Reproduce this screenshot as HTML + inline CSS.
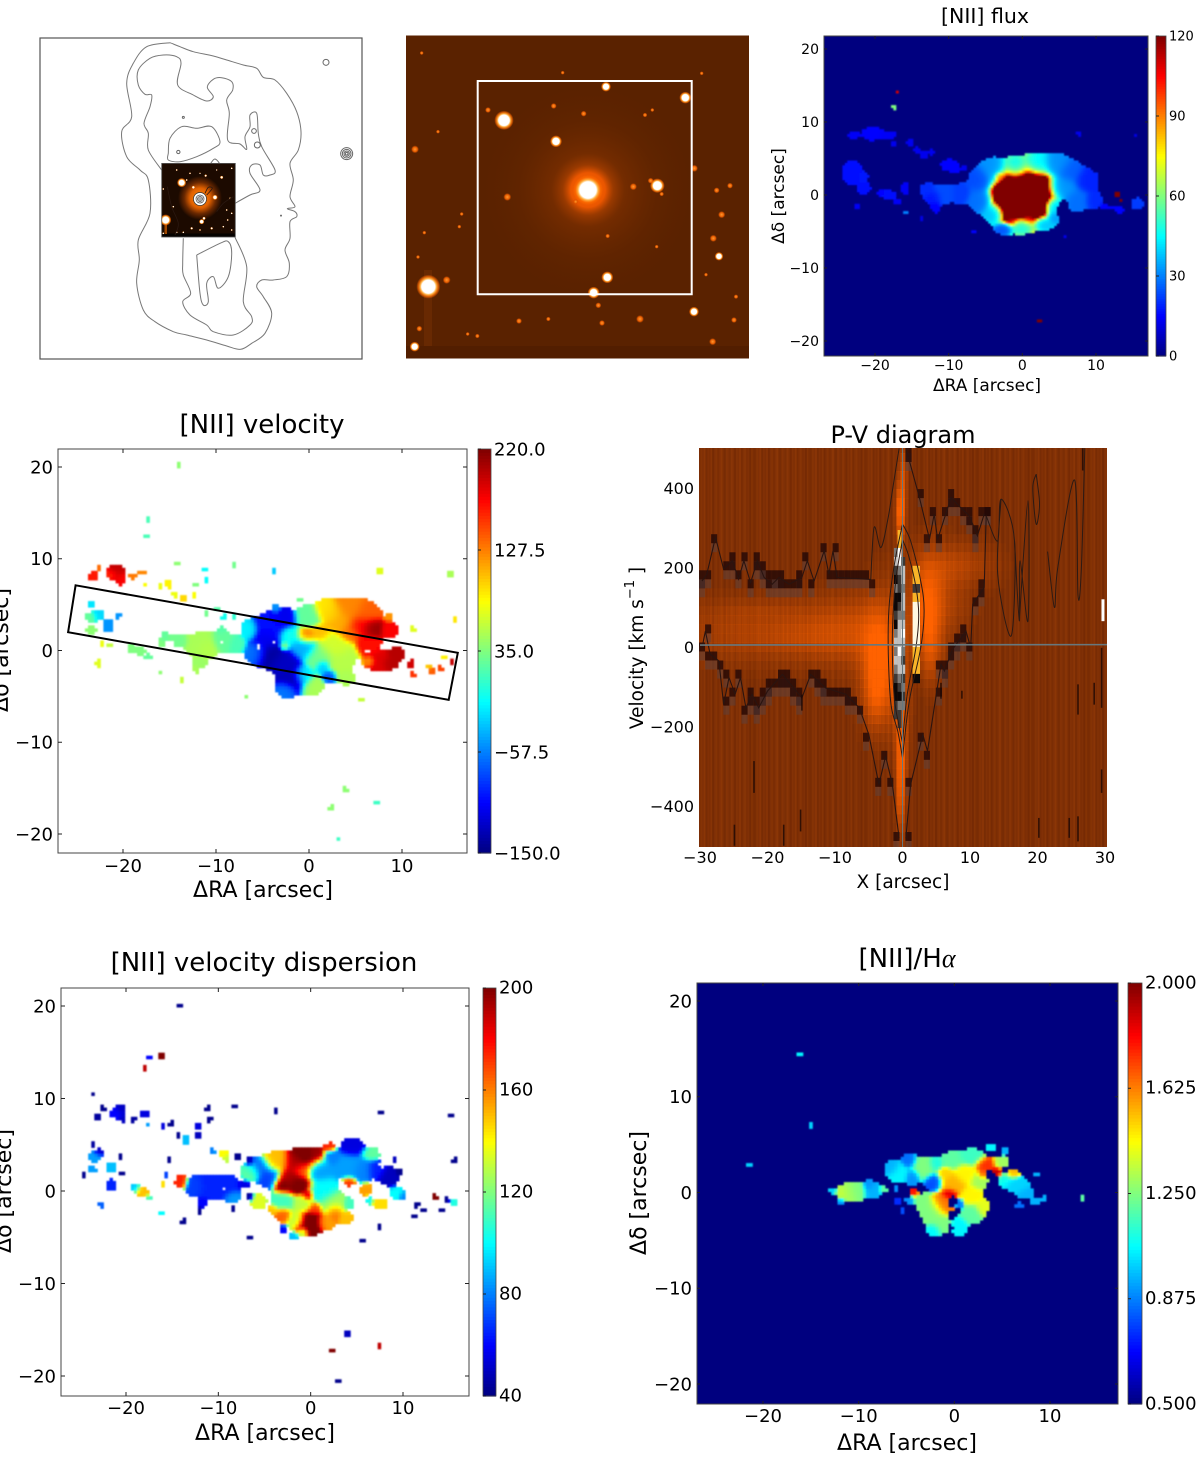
<!DOCTYPE html>
<html lang="en">
<head>
<meta charset="utf-8">
<title>NGC galaxy [NII] emission line maps</title>
<style>
html,body{margin:0;padding:0;background:#fff;}
#figure{display:block;width:1200px;height:1458px;font-family:"DejaVu Sans","Liberation Sans",sans-serif;fill:#000;}
</style>
</head>
<body>
<svg id="figure" xmlns="http://www.w3.org/2000/svg" width="1200" height="1458" viewBox="0 0 1200 1458">
<defs>
<radialGradient id="starHot"><stop offset="0" stop-color="#fff"/><stop offset=".55" stop-color="#fff"/><stop offset=".68" stop-color="#ffb040"/><stop offset=".85" stop-color="#ff6a00" stop-opacity=".7"/><stop offset="1" stop-color="#ff6a00" stop-opacity="0"/></radialGradient>
<radialGradient id="starDim"><stop offset="0" stop-color="#ff9a30"/><stop offset=".6" stop-color="#e85c00"/><stop offset="1" stop-color="#c04800" stop-opacity="0"/></radialGradient>
<radialGradient id="galaxyHalo"><stop offset="0" stop-color="#ff6a00"/><stop offset=".15" stop-color="#f05800" stop-opacity=".96"/><stop offset=".22" stop-color="#c04800" stop-opacity=".62"/><stop offset=".32" stop-color="#9a3a00" stop-opacity=".4"/><stop offset=".6" stop-color="#7a2e00" stop-opacity=".2"/><stop offset="1" stop-color="#5a2000" stop-opacity="0"/></radialGradient>
<radialGradient id="insetGlow"><stop offset="0" stop-color="#ff8a10"/><stop offset=".45" stop-color="#e06000"/><stop offset=".72" stop-color="#6a2800"/><stop offset="1" stop-color="#1c0a00"/></radialGradient>
<filter id="soften" x="-2%" y="-2%" width="104%" height="104%"><feGaussianBlur stdDeviation=".8"/></filter>
<clipPath id="clipFlux"><rect x="824" y="36" width="324" height="320"/></clipPath>
<clipPath id="clipVelocity"><rect x="58" y="449" width="409" height="404"/></clipPath>
<clipPath id="clipPv"><rect x="699" y="448" width="408" height="399"/></clipPath>
<clipPath id="clipDispersion"><rect x="61" y="988" width="408" height="408"/></clipPath>
<clipPath id="clipRatio"><rect x="697" y="983" width="421" height="421"/></clipPath>
<clipPath id="clipInset"><rect x="161.7" y="163.4" width="73.6" height="73.6"/></clipPath>
<clipPath id="clipSky"><rect x="406" y="35.5" width="343" height="323"/></clipPath>
</defs>
</svg>
<script>
/* ---------- data: emission clumps as [RA, Dec, radiusRA, radiusDec, value] in arcsec and map units ---------- */
const fluxClumps = [
[0.1,0,2.6,2.55,220],[-1.4,-3.2,.6,.6,110],[.9,-3,.6,.6,100],[-3,2.5,.5,.5,95],
[-5.7,2,1.2,1.2,24],[-5.7,-.7,1.2,1.2,28],[-3.9,3.4,1.3,1.3,32],[-.7,3.6,1.2,1.2,38],[2,4.1,1.3,1.1,42],[4.7,4.1,1.3,1.1,32],[6.5,3.2,1.2,1.1,26],[8.8,2,1.2,1.1,19],
[5.6,1.1,1.5,1.3,32],[7.4,-.7,1.2,1.1,28],[9.7,-.7,.8,.8,20],[4.3,-1.6,.9,.9,36],[4.3,-3,.7,.7,32],[-2.5,-4.6,.9,.6,24],[0,-4.1,1.2,.9,42],[2.9,-3.9,1,.7,36],[-3.9,-2.5,1,1,36],
[11.3,-1.6,.5,.4,15],[13.3,-2.1,.5,.4,15],[15.6,-1.2,.6,.6,22],[12.5,-1.8,.6,.3,15],
[-12.9,.7,.7,.7,20],[-10.7,.2,1.2,1,24],[-8.4,.2,.9,.9,22],[-12,-.25,.8,.7,17],[-11.8,-1.6,.5,.7,15],[-10,4.1,.8,.6,15],[-9.1,3.6,.5,.5,15],[-7.9,3.6,.36,.4,13],
[-15.9,.9,.45,.8,14],[-18.1,0,.9,.5,17],[-17,-.9,.5,.36,14],[-19,.2,.6,.4,15],[-21.5,.9,.7,.6,16],[-23.1,3.6,1,.8,16],[-23.3,2.3,.7,.6,16],[-21.5,2.5,.5,.5,18],[-22.5,-1.5,.4,.4,14],
[-20.4,8.4,1,.7,15],[-22.9,8.2,.6,.5,14],[-18.1,8.2,.9,.5,14],[-15.2,7.1,.45,.5,13],[-13.4,5.5,.5,.5,13],[-12.3,5.9,.4,.4,13],[-14.3,6.2,.4,.4,13],[-17.4,7,.36,.36,13],
[-15.9,-2.4,.36,.36,30],[7.7,8.4,.36,.36,13],[15.4,8.2,.32,.32,12],[-6.6,-5.1,.36,.32,15],[5.8,-5.5,.32,.32,13],[-13.6,-3.2,.32,.32,12],[12.9,.1,.32,.32,120],[13.4,-.7,.32,.32,120],
[2.4,-17.3,.32,.32,120],[-17,14.1,.32,.32,110],[-17.4,12.05,.32,.32,60]
];
const fluxGaps = [[5.6,-2.2,.9,1.5],[8,-4.2,3,1.8],[-7.5,4.8,1.2,.9],[-8,-3.4,2,1.4]];
const velocityClumps = [
[-23.2,8.1,.5,.45,165],[-22.55,9,.32,.35,135],[-20.7,8.6,.6,.6,195],[-20.2,7.75,.45,.55,175],[-21.2,8.3,.55,.4,160],[-18.9,8.1,.5,.35,130],[-18,8.5,.5,.32,125],[-17.6,7.2,.32,.32,80],
[-16,7,.32,.32,75],[-15.1,7.2,.4,.4,85],[-14.4,6.1,.32,.32,75],[-13.5,5.6,.4,.4,95],[-12.3,6.1,.32,.32,80],[-12.1,7.2,.32,.32,35],[-11.2,8.9,.32,.32,-10],[-11,7.7,.32,.32,-10],
[-8.1,9.3,.32,.32,30],[-3.8,8.75,.32,.32,-30],[7.6,8.6,.35,.35,70],[15.2,8.3,.35,.35,50],[-14.2,9.5,.32,.32,40],[-17.5,12.5,.32,.32,15],[15.7,3.4,.35,.32,90],
[-23.4,5,.35,.4,-20],[-22.65,3.9,.5,.5,-25],[-23.55,3.65,.6,.45,25],[-21.6,2.65,.5,.6,-50],[-20.5,3.75,.32,.32,-50],[-23.4,2.3,.5,.45,40],[-22.3,.75,.35,.35,75],[-21.4,.5,.35,.32,60],
[-19.2,.3,.4,.4,35],[-18.2,-.1,.6,.4,35],[-17.3,-.7,.4,.32,25],[-22.65,-1.4,.4,.4,70],[-16,-2.35,.32,.32,40],[-13.7,-3.2,.32,.32,60],[-15.5,1.55,.4,.5,25],[-15.85,.8,.4,.4,35],[-14.8,1.55,.32,.32,30],
[-13.9,1,.6,.5,30],[-11.7,.65,1.1,.9,50],[-11,.3,.8,.7,55],[-9.2,1,.8,.7,25],[-7.8,.65,.6,.6,15],[-11.7,-1.35,.5,.5,45],[-12.1,-2.1,.32,.4,50],[-9.9,4.5,.4,.32,20],[-9.2,3.6,.32,.4,-5],[-11,4.1,.32,.32,30],[-8,3.75,.32,.32,5],[-9.4,2.3,.32,.32,20],
[-6.35,2.3,.6,.7,-15],[-4.2,2.65,1.2,1,-100],[-2.75,3.55,.9,.7,-110],[-4.55,1.2,1,.9,-110],[-5.6,-.25,.8,.8,-60],[-4.2,-.45,1.1,.9,-140],[-2.75,-1.2,1.1,.9,-125],[-1.7,-3.15,1,.9,-130],[-2.4,-4.25,.7,.6,-60],[-3.5,4.65,.32,.4,-50],[-.6,.5,1,.9,-40],
[-.1,3.75,.9,.8,25],[-2.05,1.55,.8,.7,-5],[-.25,1.55,.7,.6,135],[1.2,1.9,.7,.6,105],[-2.6,.5,.35,.35,40],[2.6,.5,1.2,1,65],[3.7,-1.35,1.2,1.1,55],[1.2,-.6,1,.9,30],[1.55,-1.7,.5,.5,-35],[2.25,-2.8,.5,.5,-75],[.45,-3.9,.8,.7,50],[-.6,-2.8,.7,.7,-10],[4,-2.8,.6,.6,50],
[1.9,4.45,.8,.7,90],[2.6,4.1,.9,.7,100],[4.4,4.45,1.2,.9,125],[3.7,3,1,.9,110],[6.2,4.1,1,.8,140],[5.5,2.65,1.2,.9,170],[6.75,2.5,.8,.7,215],[8.7,2.3,.6,.6,175],[8.7,3.65,.4,.32,120],[4.4,1.9,.7,.6,130],[6.55,.5,.8,.8,170],[7.45,-1.15,.9,.8,185],[9.4,-.4,.6,.6,200],[8.7,-1.35,.6,.5,200],[6.55,-1.15,.4,.4,110],
[11,-1.5,.35,.5,190],[11.2,-2.6,.32,.32,155],[13.2,-2.25,.4,.32,140],[14.1,-2,.4,.32,150],[15.35,-1.15,.35,.4,195],[12.8,-1.7,.32,.32,100],[14.6,-.8,.32,.32,85],[-6.7,-5,.32,.32,40],[5.65,-5.3,.32,.32,60],[-1,5.55,.32,.32,30],[11.2,2.3,.32,.32,70],
[2.4,-17.1,.32,.32,40],[3.9,-15.2,.32,.32,40],[7.3,-16.5,.32,.32,10],[3.2,-20.5,.32,.32,10],[-14.1,20.2,.32,.32,40],[-17.3,14.3,.35,.32,15],[7.5,8.6,.32,.32,70]
];
const velocityGaps = [[-3.8,.85,.25,.25],[-5.4,.5,.25,.3],[8.35,.5,.8,.55],[-9.4,.9,.2,.2],[6.3,-.2,.25,.25],[5.3,-2,.55,1.1]];
const dispersionClumps = [
[-23.2,8,.4,.4,45],[-22.5,8.9,.35,.4,42],[-21,8.4,.6,.5,60],[-20.5,8.9,.4,.5,50],[-20.3,7.7,.32,.5,50],[-19.2,7.7,.35,.4,45],[-18,8.4,.6,.4,55],[-17.6,7.2,.32,.32,85],[-16,7,.35,.32,55],[-15.1,7.2,.35,.4,42],[-14.4,6.05,.32,.32,42],[-13.5,5.5,.4,.4,90],[-12.2,7,.32,.32,55],[-12.2,6,.32,.32,50],[-11.1,8.9,.32,.32,42],[-10.9,7.7,.32,.32,42],[-23.6,10.5,.32,.32,42],[-8.2,9.2,.32,.32,42],[-3.8,8.7,.32,.32,42],[7.65,8.5,.35,.35,42],[15.3,8.2,.32,.32,42],
[-23.4,3.7,.7,.5,85],[-23.6,5,.32,.4,45],[-22.85,4.25,.4,.35,50],[-21.6,2.6,.5,.5,90],[-23.6,2.3,.45,.4,85],[-24.5,1.7,.32,.32,42],[-21.6,.65,.55,.5,65],[-18.3,-.1,.6,.5,150],[-19,.3,.4,.4,90],[-17.4,-.8,.4,.32,110],[-22.7,-1.5,.32,.35,75],[-16,.85,.35,.35,145],[-15.6,1.7,.32,.4,70],[-14.1,1,.5,.55,175],[-16.1,-2.4,.32,.32,100],[-13.8,-3.3,.32,.32,42],[-20.5,3.7,.32,.32,42],[-20.5,1.9,.32,.32,42],[-15.3,3.3,.32,.32,42],
[-10.6,4.25,.4,.35,80],[-9.5,4.05,.5,.4,140],[-9.05,3.5,.35,.35,130],[-7.9,3.7,.32,.32,42],
[-12.4,.5,.8,.7,70],[-11,.5,1.1,.9,65],[-9.1,.5,1,.9,65],[-8.4,-.6,.6,.5,85],[-11.7,-1.3,.4,.5,60],[-12,-2.2,.32,.4,42],[-7.15,.65,.5,.35,55],[-8.4,-1.9,.32,.32,42],
[-6.4,2.1,.7,.7,115],[-6.6,3.2,.32,.32,42],[-5.5,2.6,.9,.7,75],[-5.7,-1.15,.6,.6,135],[-6.6,-.6,.32,.32,42],[-3.7,3.2,1,.8,150],[-.5,3.5,1.2,.8,205],[-1.55,3,.9,.8,190],[.45,4.05,.6,.5,195],[-.8,2.3,.7,.7,165],[-2.3,1.2,1,.8,190],[-1.55,.8,1.1,.8,205],[-3,.65,.6,.6,205],[-.3,-.45,.4,.4,190],[-4.45,1.55,.9,.8,70],[-3,-1,.9,.8,110],[-.8,-1.35,.8,.7,130],
[2.05,4.8,.5,.4,175],[2.4,3.7,.6,.6,80],[.95,2.3,1,.9,85],[1.35,.1,1,1,100],[2.4,-1.35,1,.9,125],[-3,-2.6,.6,.6,165],[-4.1,-2.05,.4,.4,150],[.07,-3.3,.9,.9,205],[-.45,-3.85,.8,.7,200],[.45,-1.9,.5,.5,170],[-1.55,-3.15,.7,.7,130],[-1.9,-4.95,.5,.4,90],[-.8,-4.4,.4,.4,110],[2.6,-2.25,.6,.7,165],[1.7,-3.3,.7,.6,155],[3.9,-2.95,.6,.5,150],[4.2,-1.35,.4,.5,110],[-3,-4.2,.4,.4,60],
[4.2,2.65,1.2,1,85],[4.6,4.8,.9,.7,55],[6.6,4.05,.7,.5,115],[4.2,1,.5,.4,175],[5.65,2.3,.8,.8,80],[7.1,2.3,.7,.7,65],[8.55,1.55,.8,.7,50],[9.65,2.1,.32,.32,42],[9.1,3.5,.32,.32,50],[6,.1,.5,.5,155],[6.4,-1,.32,.4,100],[7.5,-1.35,.7,.5,145],[9.3,-.25,.6,.5,100],[10,-.6,.32,.4,80],
[11.45,-1.5,.35,.35,42],[12.2,-2,.32,.32,42],[14.15,-2.05,.4,.32,42],[15.6,-1.15,.4,.4,105],[11.25,-2.7,.32,.32,42],[14.75,-1,.32,.32,42],[-6.6,-5.1,.32,.32,42],[5.65,-5.4,.32,.32,42],[7.4,-3.85,.32,.32,42],[15.6,3.3,.32,.32,42],[13.5,-.6,.32,.32,200],
[2.4,-17.3,.32,.32,200],[4,-15.4,.32,.32,50],[7.5,-16.8,.32,.32,190],[3.1,-20.6,.32,.32,42],[-14.1,20.1,.32,.32,42],[-17.4,14.4,.32,.32,60],[-16.1,14.6,.32,.32,200],[-17.9,13.3,.32,.32,190]
];
const dispersionGaps = [[-5.5,.3,.4,.35],[6.9,1.1,.25,.25],[7.8,2.8,.4,.35],[-9.3,.1,.2,.2],[5.3,-1.5,.5,1]];
const ratioClumps = [
[-11,0,.65,.6,1.3],[-11.7,-.1,.5,.5,1.35],[-10.1,.2,.6,.6,1.25],[-8.55,.2,.6,.6,.95],[-8.9,.75,.4,.4,.9],[-12.75,.2,.32,.4,1],[-11.85,-1,.32,.32,.9],[-7.3,.3,.35,.32,1.2],
[-6.5,2.65,.55,.55,.95],[-5.75,2,.7,.7,1.05],[-6.1,.4,.35,.35,.9],[-5.9,-.8,.4,.4,.75],[-4.7,3.35,.5,.5,.85],[-3.15,2.65,.9,.8,1.25],[-1.95,3,.5,.5,1.1],[-4.35,1.6,.5,.6,.9],[-2.1,1.1,.6,.6,.8],[-4.7,-.85,.4,.4,.9],[-4.2,.05,.35,.32,1.8],[-3.5,-.8,.6,.5,1.25],[-2.3,-1.9,.9,.9,1.25],[-2.1,-3.95,.5,.5,1.05],[-1.4,-3.25,.7,.7,1.25],[-1.2,-1.15,.8,.8,1.65],[-.5,-.1,.5,.4,1.9],[-.2,.9,.9,.7,1.55],[-.9,1.95,.6,.5,1.5],[-.2,3.35,.8,.6,1.2],[1.2,1.95,.8,.7,1.45],[1.9,3.7,.9,.6,1.15],[3.8,4.75,.5,.4,1.05],[1.9,-.3,.7,.7,1.45],[2.6,1.25,.6,.6,1.3],[2.95,-1.5,.5,.6,1.4],[1.9,-2.2,.7,.7,1.2],[.5,-3.6,.6,.6,1.05],[.5,-1.2,.32,.35,.85],
[3.3,3,.7,.5,1.75],[4.5,2.15,.4,.35,1.9],[2.95,2,.32,.4,1.7],[5,3.2,.6,.5,1.3],[6.1,1.95,.5,.4,1.55],[5.4,4.4,.4,.4,.95],[5.4,1.4,.6,.5,1.1],[6.1,1,.7,.5,1],[6.8,.75,.7,.6,1],[7.5,-.1,.6,.5,.95],[8.5,-1,.5,.35,.95],[9.4,-.65,.4,.32,.95],[6.8,-1.35,.4,.32,.85],[8.5,1.85,.32,.32,.95],[-5.4,-1.8,.32,.32,.8],
[-16.2,14.5,.32,.32,1.05],[-15,6.9,.32,.32,1.0],[-21.4,2.9,.32,.32,1.0],[13.3,-.6,.32,.32,1.2]
];
const ratioGaps = [[-3.5,.4,.55,.5],[-.25,-1,.5,.6],[-.35,-2.4,.28,.5],[-.35,-3.6,.22,.6],[4.3,-.6,.7,.7]];
const slitCorners = [[-25.1,7.11],[16,-.25],[15.02,-5.37],[-25.9,1.99]];

/* ---------- data: axis ticks ---------- */
const fluxXTicks = [-20,-10,0,10];
const fluxYTicks = [20,10,0,-10,-20];
const fluxBarTicks = [0,30,60,90,120];
const velocityXTicks = [-20,-10,0,10];
const velocityYTicks = [20,10,0,-10,-20];
const velocityBarTicks = [-150,-57.5,35,127.5,220];
const dispersionXTicks = [-20,-10,0,10];
const dispersionYTicks = [20,10,0,-10,-20];
const dispersionBarTicks = [40,80,120,160,200];
const ratioXTicks = [-20,-10,0,10];
const ratioYTicks = [20,10,0,-10,-20];
const ratioBarTicks = [.5,.875,1.25,1.625,2];
const pvXTicks = [-30,-20,-10,0,10,20,30];
const pvYTicks = [400,200,0,-200,-400];

/* ---------- data: position-velocity diagram (X arcsec, velocity km/s) ---------- */
const pvStripeNoise = [.3,.7,.5,.9,.2,.6,.4,.8,.1,.5,.7,.3,.6,.95,.4,.2,.75,.5,.35,.85,.55,.15,.65,.45,.9,.25,.6,.8,.4,.5,.1,.7,.3];
const pvGlow = [
[-20,40,15,75,.3],[-8,40,7,85,.32],[-22,95,6,22,.08],[-15,20,8,30,.07],[-3.5,-60,2.6,130,.52],[-4,-110,1.7,85,.4],[-3,30,3,130,.26],[3.6,110,2.2,115,.58],[4.2,-10,1.4,80,.4],[8,205,5.5,55,.32],[5,110,3.4,100,.28],[9,100,3,40,.06],
[-.3,340,.6,70,1],[-.2,-250,.8,120,.7],[.1,440,.5,70,.5],[-.5,-100,1.4,120,.4],[-.3,-380,.5,100,.6]
];
const pvRowValues = [283,261,238,215,193,170,147,125,102,80,57,34,12,-11,-34,-56,-79,-102,-124,-147,-170,-192];
const pvNucleusLeft = [-1,-1,2,3,1,0,2,0,0,1,0,2,3,2,3,2,1,0,0,1,1,-1];
const pvNucleusMid = [5,5,4,4,2,1,1,0,1,2,3,3,3,4,3,3,2,1,0,2,1,1];
const pvNucleusRight = [-1,-1,-1,1,3,3,2,3,3,2,3,4,3,2,1,3,1,2,1,2,-1,-1];
const pvCrescentRows = [193,170,147,125,102,80,57,34,12,-11,-34,-56,-79];
const pvCrescentValues = [5,5,1,5,6,6,6,6,6,5,5,5,0];
const pvBandUpperLeft = [[-29.7,166],[-29,183],[-27.7,276],[-26.5,196],[-25.2,217],[-24.3,171],[-23.5,217],[-22.5,162],[-21.5,217],[-20.5,175],[-19.3,158],[-18.3,175],[-16.8,158],[-14.9,175],[-14.1,217],[-13.1,166],[-11.6,242],[-10.9,183],[-10.3,242],[-9.7,175],[-4.7,170]];
const pvLineUpperMid = [[-4.7,170],[-4.2,301],[-3.2,250],[-2.2,318],[-1.5,393],[-.5,500]];
const pvBandUpperRight = [[.5,500],[1,469],[2.5,376],[4,271],[4.7,334],[5.2,271],[6.4,334],[7.2,376],[8.6,351],[9.9,330],[11.1,280],[12.1,334],[12.4,330]];
const pvBandLowerLeft = [[-29.7,-2],[-29.2,40],[-28.5,-18],[-27.2,-35],[-26.5,-145],[-25.7,-77],[-24.8,-119],[-24,-77],[-23.2,-153],[-22.3,-119],[-21.3,-153],[-20,-111],[-17.8,-69],[-14.9,-128],[-13.6,-69],[-11.4,-103],[-8.4,-119],[-6.4,-153],[-5,-220],[-3.5,-346],[-2.5,-275],[-1.5,-346],[-.5,-481]];
const pvBandLowerRight = [[.5,-481],[1.2,-346],[3,-220],[3.7,-262],[5,-119],[5.7,-44],[6.2,-60],[7.4,-6],[9.4,40],[10.1,-2],[10.4,108],[12.1,150],[12.4,330]];
const pvLoopRight = [[12.4,330],[14.1,267],[14.6,372],[16.6,267],[16.1,28],[14.1,183],[14.6,372]];
const pvLoopFar = [[16.6,267],[17.3,66],[17.4,217],[18.6,66],[18.6,368],[17.3,66]];
const pvLoopSmall = [[19.8,435],[20.3,360],[19.8,309],[19.3,400],[19.8,435]];
const pvLoopEdge = [[21.5,240],[22.5,100],[23,200],[25.5,420],[26,130],[26.5,200],[27,500]];
const pvLensLeft = [[0,309],[-1.2,208],[-2,99],[-2.1,-18],[-1.7,-145],[-.7,-212],[0,-279]];
const pvLensRight = [[0,309],[1.2,267],[2.7,166],[3.2,91],[2.7,-2],[1,-136],[0,-279]];
const pvLensInnerLeft = [[0,270],[-.9,180],[-1.4,80],[-1.5,-20],[-1.2,-130],[-.5,-200],[0,-240]];
const pvLensInnerRight = [[0,270],[.9,230],[2,150],[2.4,80],[2,0],[.7,-120],[0,-240]];
const pvStreaks = [[-22,-287,-367],[-15.1,-409,-464],[-17.6,-447,-500],[-24.9,-447,-500],[26,-426,-489],[29.5,-308,-367],[29.5,-2,-153],[26,-94,-170],[28.4,-90,-145],[26.7,444,500],[20.2,-430,-480],[24.7,-430,-480],[-14.9,-120,-160],[5.7,-90,-130],[8.8,-110,-130]];
const pvSystemicVelocity = [5,6];
const pvWhiteMark = [29.7,65,120];

/* ---------- data: sky images, in image-detector units ---------- */
const radioOuter = [[510,128],[540,140],[580,155],[640,168],[680,180],[730,195],[770,205],[790,232],[825,240],[860,280],[890,335],[903,395],[895,450],[870,490],[880,540],[870,590],[885,620],[862,626],[885,635],[890,650],[870,665],[870,715],[855,750],[868,790],[860,830],[820,840],[785,840],[770,860],[790,890],[815,940],[795,1000],[755,1030],[722,1048],[680,1038],[620,1020],[560,1005],[520,995],[465,965],[430,930],[410,850],[418,780],[415,720],[450,640],[445,540],[420,510],[380,470],[365,395],[395,350],[380,250],[400,190],[440,140],[510,128]];
const radioInnerUpper = [[485,510],[445,450],[445,400],[432,370],[450,320],[455,285],[435,283],[415,255],[415,210],[450,175],[490,165],[530,170],[543,190],[533,255],[580,285],[620,303],[640,290],[622,262],[640,238],[665,233],[695,245],[698,270],[680,300],[688,340],[683,420],[720,432],[740,448],[735,410],[750,380],[750,345],[770,340],[775,400],[785,440],[825,510],[810,525],[790,525],[780,495],[755,495],[750,520],[780,570],[750,585],[705,610]];
const radioInnerLower = [[550,715],[548,790],[550,825],[572,880],[548,905],[570,945],[620,975],[640,995],[700,1005],[750,975],[755,950],[730,905],[740,800],[705,712]];
const radioHoleUpper = [[505,460],[510,415],[545,380],[590,385],[635,380],[660,425],[640,445],[590,470],[540,485],[505,480],[505,460]];
const radioHoleLower = [[590,765],[660,730],[685,725],[695,760],[685,830],[655,865],[640,830],[620,850],[625,905],[610,915],[600,880],[590,765]];
const radioKnot = [[632,490],[645,477],[660,495],[650,515],[635,505],[632,490]];
const radioInsetTrace = [[502,560],[515,620],[535,670],[525,705]];
const radioInsetTraceRight = [[650,635],[670,610],[700,590]];
const radioInsetTail = [[615,580],[625,562],[637,565],[620,585]];
const radioRings = [[978,187,9],[1040,461,18],[1040,461,13],[1040,461,8],[1040,461,4],[550,352,3],[535,456,5],[762,393,7],[772,435,9],[843,647,1.5]];
const insetStars = [[545,548,14],[497,660,17],[605,665,8],[612,655,5],[645,592,8],[580,562,5],[617,527,4],[665,532,5],[490,567,3],[520,620,3],[560,540,3],[570,520,3],[600,520,2.5],[690,595,3],[680,630,3],[683,660,3],[695,640,3],[670,680,3],[635,685,4],[575,685,4],[550,697,3],[530,697,3],[695,690,3],[600,690,3],[490,700,3],[650,510,2.5],[695,505,3],[530,510,3]];
const skyBright = [[312,301,29],[468,364,18],[618,200,15],[856,233,18],[772,497,22],[622,772,18],[581,818,18],[85,800,36],[957,709,13],[882,875,15],[44,980,15]];
const skyDim = [[700,500,11],[752,482,9],[785,522,7],[322,531,12],[883,445,11],[140,780,12],[45,388,12],[264,270,9],[461,258,9],[551,281,9],[735,285,7],[950,511,9],[990,497,9],[965,584,11],[940,655,11],[720,897,12],[1002,900,9],[606,909,9],[357,903,9],[595,856,9],[445,897,7],[58,926,9],[623,648,7],[527,545,8],[1008,830,7],[938,965,11],[905,160,6],[757,270,6],[178,620,6],[73,638,6],[54,711,6],[185,582,6],[770,680,6],[918,764,6],[203,942,6],[232,948,7],[488,158,6],[114,335,6],[65,99,6]];
const skyBox = [[233,183],[875,183],[875,823],[233,823]];

/* ---------- helpers ---------- */
const NS = 'http://www.w3.org/2000/svg';
const figure = document.getElementById('figure');
const MINUS = '\u2212';
function make(tag, parent, attrs, text) {
  const node = document.createElementNS(NS, tag);
  for (const key in attrs) node.setAttribute(key, attrs[key]);
  if (text !== undefined) node.textContent = text;
  parent.appendChild(node);
  return node;
}
function linear(d0, d1, r0, r1) {
  return function (v) { return r0 + (v - d0) * (r1 - r0) / (d1 - d0); };
}
function clamp01(v) { return Math.max(0, Math.min(1, v)); }
function jet(t) {
  t = clamp01(t);
  const r = clamp01(Math.min(4 * t - 1.5, 4.5 - 4 * t));
  const g = clamp01(Math.min(4 * t - 0.5, 3.5 - 4 * t));
  const b = clamp01(Math.min(4 * t + 0.5, 2.5 - 4 * t));
  return 'rgb(' + Math.round(r * 255) + ',' + Math.round(g * 255) + ',' + Math.round(b * 255) + ')';
}
function fmt(v, digits) { return v.toFixed(digits).replace('-', MINUS); }
function smoothPath(points, px, py) {
  const p = points.map(function (q) { return [px(q[0]), py(q[1])]; });
  let d = 'M' + p[0][0].toFixed(1) + ' ' + p[0][1].toFixed(1);
  for (let i = 0; i < p.length - 1; i++) {
    const a = p[Math.max(i - 1, 0)], b = p[i], c = p[i + 1], e = p[Math.min(i + 2, p.length - 1)];
    d += 'C' + (b[0] + (c[0] - a[0]) / 6).toFixed(1) + ' ' + (b[1] + (c[1] - a[1]) / 6).toFixed(1) + ' ' +
      (c[0] - (e[0] - b[0]) / 6).toFixed(1) + ' ' + (c[1] - (e[1] - b[1]) / 6).toFixed(1) + ' ' +
      c[0].toFixed(1) + ' ' + c[1].toFixed(1);
  }
  return d;
}
function linePath(points, px, py) {
  return points.map(function (q, i) { return (i ? 'L' : 'M') + px(q[0]).toFixed(1) + ' ' + py(q[1]).toFixed(1); }).join('');
}

/* ---------- axes, colorbar and map drawing ---------- */
function drawFrame(parent, p) {
  const frame = make('rect', parent, {x: p.x0, y: p.y0, width: p.x1 - p.x0, height: p.y1 - p.y0, fill: 'none', stroke: '#444', 'stroke-width': 1});
  
  
}
function drawTicks(parent, p) {
  p.xTicks.forEach(function (v) {
    const x = p.xs(v);
    const bottom = make('line', parent, {x1: x, x2: x, y1: p.y1, y2: p.y1 - p.tickLen, stroke: '#222', 'stroke-width': 1});
    
    
    const top = make('line', parent, {x1: x, x2: x, y1: p.y0, y2: p.y0 + p.tickLen, stroke: '#222', 'stroke-width': 1});
    
    
    const label = make('text', parent, {x: x, y: p.xLabelY, 'text-anchor': 'middle', 'font-size': p.tickFont}, fmt(v, 0));
    
    
  });
  p.yTicks.forEach(function (v) {
    const y = p.ys(v);
    const left = make('line', parent, {x1: p.x0, x2: p.x0 + p.tickLen, y1: y, y2: y, stroke: '#222', 'stroke-width': 1});
    
    
    const right = make('line', parent, {x1: p.x1, x2: p.x1 - p.tickLen, y1: y, y2: y, stroke: '#222', 'stroke-width': 1});
    
    
    const label = make('text', parent, {x: p.x0 - 5, y: y + p.tickFont * 0.36, 'text-anchor': 'end', 'font-size': p.tickFont}, fmt(v, 0));
    
    
  });
}
function drawTitles(parent, p) {
  const title = make('text', parent, {x: p.titleX, y: p.titleY, 'text-anchor': 'middle', 'font-size': p.titleFont}, p.title);
  
  
  const xl = make('text', parent, {x: p.xTitleX, y: p.xTitleY, 'text-anchor': 'middle', 'font-size': p.labelFont}, p.xTitle);
  
  
  const yl = make('text', parent, {x: 0, y: 0, 'text-anchor': 'middle', 'font-size': p.labelFont, transform: 'translate(' + p.yTitleX + ' ' + p.yTitleY + ') rotate(-90)'}, p.yTitle);
  
  
  return {title: title, yl: yl};
}
function drawColorbar(parent, p) {
  const scale = linear(p.min, p.max, p.y1, p.y0);
  const bar = make('g', parent, {});
  
  
  const steps = 128;
  for (let i = 0; i < steps; i++) {
    const v = p.min + (p.max - p.min) * (i + .5) / steps;
    const h = (p.y1 - p.y0) / steps;
    const seg = make('rect', bar, {x: p.barX0, width: p.barX1 - p.barX0, y: (scale(v) - h / 2).toFixed(2), height: (h + .6).toFixed(2), fill: jet((v - p.min) / (p.max - p.min))});
    
    
  }
  const box = make('rect', bar, {x: p.barX0, y: p.y0, width: p.barX1 - p.barX0, height: p.y1 - p.y0, fill: 'none', stroke: '#444', 'stroke-width': .8});
  
  
  p.barTicks.forEach(function (v) {
    const y = scale(v);
    const tick = make('line', bar, {x1: p.barX0, x2: p.barX0 + 3, y1: y, y2: y, stroke: '#222', 'stroke-width': 1});
    
    
    const label = make('text', bar, {x: p.barX1 + 3, y: y + p.barFont * 0.36 + p.barLabelShift, 'font-size': p.barFont}, fmt(v, p.barDigits));
    
    
  });
}
function fieldValue(clumps, ra, dec, maxGrow) {
  let mask = 0, sum = 0, weight = 0;
  for (let i = 0; i < clumps.length; i++) {
    const c = clumps[i];
    const small = Math.min(c[2], c[3]);
    const grow = small >= .6 ? maxGrow : small <= .35 ? .85 : .85 + (small - .35) * (maxGrow - .85) * 4;
    const dx = (ra - c[0]) / c[2];
    const dy = (dec - c[1]) / c[3];
    const d2 = dx * dx + dy * dy;
    if (d2 > 60) continue;
    mask += Math.exp(-d2 / (grow * grow));
    const w = Math.exp(-1.05 * d2);
    sum += w * c[4];
    weight += w;
  }
  return mask > .35 ? sum / weight : null;
}
function inGap(gaps, ra, dec) {
  for (let i = 0; i < gaps.length; i++) {
    const g = gaps[i];
    const dx = (ra - g[0]) / g[2], dy = (dec - g[1]) / g[3];
    if (dx * dx + dy * dy < 1) return true;
  }
  return false;
}
function drawMap(parent, p) {
  const step = .33;
  const cw = Math.abs(p.xs(step) - p.xs(0)) + .5;
  const ch = Math.abs(p.ys(step) - p.ys(0)) + .5;
  const clip = make('g', parent, {'clip-path': 'url(#' + p.clip + ')'});
  
  
  const group = make('g', clip, {filter: 'url(#soften)'});
  
  
  for (let ra = -27.2; ra < 17.4; ra += step) {
    for (let dec = -22.2; dec < 22.4; dec += step) {
      if (inGap(p.gaps, ra, dec)) continue;
      const v = fieldValue(p.clumps, ra, dec, p.grow);
      if (v === null) continue;
      const cell = make('rect', group, {x: (p.xs(ra) - cw / 2).toFixed(1), y: (p.ys(dec) - ch / 2).toFixed(1), width: cw.toFixed(1), height: ch.toFixed(1), fill: jet((v - p.min) / (p.max - p.min))});
      
      
    }
  }
}

/* ---------- panel 1: radio contours with optical inset ---------- */
(function () {
  const g = make('g', figure, {});
  
  
  const px = linear(0, 3, 0, 1), py = linear(0, 3, 0, 1);
  const frame = make('rect', g, {x: 40, y: 38, width: 322, height: 321, fill: '#fff', stroke: '#555', 'stroke-width': 1.2});
  
  
  [radioOuter, radioInnerUpper, radioInnerLower, radioHoleUpper, radioHoleLower, radioKnot].forEach(function (pts) {
    const contour = make('path', g, {d: smoothPath(pts, px, py), fill: 'none', stroke: '#777', 'stroke-width': 1});
    
    
  });
  radioRings.forEach(function (r) {
    const ring = make('circle', g, {cx: px(r[0]), cy: py(r[1]), r: px(r[2]), fill: 'none', stroke: '#666', 'stroke-width': 1});
    
    
  });
  const inset = make('g', g, {'clip-path': 'url(#clipInset)'});
  
  
  const bg = make('rect', inset, {x: 161.7, y: 163.4, width: 73.6, height: 73.6, fill: '#1c0a00'});
  
  
  const glow = make('circle', inset, {cx: 200, cy: 198, r: 22, fill: 'url(#insetGlow)'});
  
  
  const foot = make('rect', inset, {x: 161.7, y: 233.5, width: 73.6, height: 4, fill: '#050200'});
  
  
  const streak = make('rect', inset, {x: 164.5, y: 220, width: 2.5, height: 14, fill: '#a04800'});
  
  
  insetStars.forEach(function (s) {
    const star = make('circle', inset, {cx: px(s[0]), cy: py(s[1]), r: px(s[2]), fill: 'url(#starHot)'});
    
    
  });
  const core = make('circle', inset, {cx: 200, cy: 199, r: 6.5, fill: '#fff', stroke: '#333', 'stroke-width': .7});
  
  
  [4, 2.5, 1.2].forEach(function (r) {
    const ring = make('circle', inset, {cx: 200, cy: 199, r: r, fill: 'none', stroke: '#444', 'stroke-width': .7});
    
    
  });
  [radioInsetTrace, radioInsetTraceRight, radioInsetTail].forEach(function (pts) {
    const trace = make('path', inset, {d: smoothPath(pts, px, py), fill: 'none', stroke: '#2a1810', 'stroke-width': .8});
    
    
  });
  const edge = make('rect', g, {x: 161.7, y: 163.4, width: 73.6, height: 73.6, fill: 'none', stroke: '#555', 'stroke-width': .8});
  
  
})();

/* ---------- panel 2: optical image ---------- */
(function () {
  const g = make('g', figure, {'clip-path': 'url(#clipSky)'});
  
  
  const sx = linear(0, 3, 400, 401), sy = linear(0, 3, 20, 21), sr = linear(0, 3, 0, 1);
  const bg = make('rect', g, {x: 406, y: 35.5, width: 343, height: 323, fill: '#5a2200'});
  
  
  const lower = make('rect', g, {x: 406, y: 346, width: 343, height: 13, fill: '#521e00'});
  
  
  const streak = make('rect', g, {x: 424, y: 270, width: 8, height: 76, fill: '#8a3a08', opacity: .3});
  
  
  const halo = make('circle', g, {cx: 588, cy: 190, r: 115, fill: 'url(#galaxyHalo)'});
  
  
  skyDim.forEach(function (s) {
    const star = make('circle', g, {cx: sx(s[0]), cy: sy(s[1]), r: sr(s[2]), fill: 'url(#starDim)'});
    
    
  });
  skyBright.forEach(function (s) {
    const star = make('circle', g, {cx: sx(s[0]), cy: sy(s[1]), r: sr(s[2]), fill: 'url(#starHot)'});
    
    
  });
  const core = make('circle', g, {cx: 588, cy: 190, r: 15, fill: 'url(#starHot)'});
  
  
  const box = make('polygon', g, {points: skyBox.map(function (q) { return sx(q[0]).toFixed(1) + ',' + sy(q[1]).toFixed(1); }).join(' '), fill: 'none', stroke: '#fff', 'stroke-width': 2});
  
  
})();

/* ---------- emission-line map panels ---------- */
const panels = [
  {name: 'flux', title: '[NII] flux', clumps: fluxClumps, gaps: fluxGaps, grow: 1.3, min: 0, max: 120, bg: '#00007f', clip: 'clipFlux',
   x0: 824, x1: 1148, y0: 36, y1: 356, xs: linear(-20, 10, 875, 1096), ys: linear(20, -20, 49, 341),
   xTicks: fluxXTicks, yTicks: fluxYTicks, tickLen: 3, tickFont: 14, xLabelY: 370,
   titleX: 985, titleY: 23, titleFont: 20.5, xTitle: '\u0394RA [arcsec]', xTitleX: 987, xTitleY: 391, labelFont: 17, yTitle: '\u0394\u03b4 [arcsec]', yTitleX: 784, yTitleY: 196,
   barX0: 1156, barX1: 1166, barTicks: fluxBarTicks, barFont: 13, barDigits: 0, barLabelShift: 0},
  {name: 'velocity', title: '[NII] velocity', clumps: velocityClumps, gaps: velocityGaps, grow: 1.4, min: -150, max: 220, bg: '#fff', clip: 'clipVelocity',
   x0: 58, x1: 467, y0: 449, y1: 853, xs: linear(-20, 10, 123, 402), ys: linear(20, -20, 467, 834),
   xTicks: velocityXTicks, yTicks: velocityYTicks, tickLen: 4, tickFont: 18, xLabelY: 872,
   titleX: 262, titleY: 433, titleFont: 26, xTitle: '\u0394RA [arcsec]', xTitleX: 263, xTitleY: 897, labelFont: 22, yTitle: '\u0394\u03b4 [arcsec]', yTitleX: 8, yTitleY: 650,
   barX0: 478, barX1: 491, barTicks: velocityBarTicks, barFont: 18, barDigits: 1, barLabelShift: 0},
  {name: 'dispersion', title: '[NII] velocity dispersion', clumps: dispersionClumps, gaps: dispersionGaps, grow: 1.35, min: 40, max: 200, bg: '#fff', clip: 'clipDispersion',
   x0: 61, x1: 469, y0: 988, y1: 1396, xs: linear(-20, 10, 126, 403), ys: linear(20, -20, 1006, 1376),
   xTicks: dispersionXTicks, yTicks: dispersionYTicks, tickLen: 4, tickFont: 18, xLabelY: 1414,
   titleX: 264, titleY: 971, titleFont: 26, xTitle: '\u0394RA [arcsec]', xTitleX: 265, xTitleY: 1440, labelFont: 22, yTitle: '\u0394\u03b4 [arcsec]', yTitleX: 11, yTitleY: 1191,
   barX0: 483, barX1: 496, barTicks: dispersionBarTicks, barFont: 18, barDigits: 0, barLabelShift: -1},
  {name: 'line-ratio', title: '', clumps: ratioClumps, gaps: ratioGaps, grow: 1.45, min: .5, max: 2, bg: '#00007f', clip: 'clipRatio',
   x0: 697, x1: 1118, y0: 983, y1: 1404, xs: linear(-20, 10, 763, 1050), ys: linear(20, -20, 1001, 1384),
   xTicks: ratioXTicks, yTicks: ratioYTicks, tickLen: 3, tickFont: 18, xLabelY: 1422,
   titleX: 907, titleY: 967, titleFont: 26, xTitle: '\u0394RA [arcsec]', xTitleX: 907, xTitleY: 1450, labelFont: 22, yTitle: '\u0394\u03b4 [arcsec]', yTitleX: 646, yTitleY: 1193,
   barX0: 1128, barX1: 1142, barTicks: ratioBarTicks, barFont: 18, barDigits: 3, barLabelShift: -1}
];
panels.forEach(function (p) {
  const g = make('g', figure, {});
  
  
  const bg = make('rect', g, {x: p.x0, y: p.y0, width: p.x1 - p.x0, height: p.y1 - p.y0, fill: p.bg});
  
  
  drawMap(g, p);
  if (p.name === 'velocity') {
    const slit = make('polygon', g, {points: slitCorners.map(function (c) { return p.xs(c[0]).toFixed(1) + ',' + p.ys(c[1]).toFixed(1); }).join(' '), fill: 'none', stroke: '#000', 'stroke-width': 2});
    
    
  }
  drawFrame(g, p);
  drawTicks(g, p);
  const titles = drawTitles(g, p);
  if (p.name === 'line-ratio') {
    titles.title.textContent = '[NII]/H';
    const alpha = make('tspan', titles.title, {'font-family': '"Liberation Serif",serif', 'font-style': 'italic'}, '\u03b1');
    
    
  }
  drawColorbar(g, p);
});

/* ---------- position-velocity panel ---------- */
function drawBlockBand(plot, p, pts) {
  const seen = {};
  const blockX = .9, blockV = 22.7;
  function paint(x, v) {
    const col = Math.round(x / blockX), row = Math.round(v / blockV);
    const key = col + ':' + row;
    if (seen[key]) return;
    seen[key] = true;
    const cx = col * blockX, cv = row * blockV;
    const w = (p.xs(blockX) - p.xs(0)).toFixed(1), h = (p.ys(0) - p.ys(blockV)).toFixed(1);
    const shade = make('rect', plot, {x: p.xs(cx - blockX / 2).toFixed(1), y: p.ys(cv - blockV / 2).toFixed(1), width: w, height: h, fill: '#5a4240', 'fill-opacity': .5});
    
    
    const block = make('rect', plot, {x: p.xs(cx - blockX / 2).toFixed(1), y: p.ys(cv + blockV / 2).toFixed(1), width: w, height: h, fill: '#220806', 'fill-opacity': .8});
    
    
  }
  pts.forEach(function (q, i) {
    paint(q[0], q[1]);
    if (i === 0) return;
    const a = pts[i - 1];
    const dx = Math.abs(q[0] - a[0]);
    if (dx === 0 || Math.abs(q[1] - a[1]) / dx > 45) return;
    const n = Math.ceil(dx / .3);
    for (let k = 1; k < n; k++) paint(a[0] + (q[0] - a[0]) * k / n, a[1] + (q[1] - a[1]) * k / n);
  });
}
(function () {
  const p = {name: 'pv', x0: 699, x1: 1107, y0: 448, y1: 847, xs: linear(-30, 30, 700, 1105), ys: linear(400, -400, 488, 806),
    xTicks: pvXTicks, yTicks: pvYTicks, tickLen: 0, tickFont: 16, xLabelY: 863,
    title: 'P-V diagram', titleX: 903, titleY: 443, titleFont: 24, xTitle: 'X [arcsec]', xTitleX: 903, xTitleY: 888, labelFont: 18.5, yTitle: '', yTitleX: 643, yTitleY: 648};
  const g = make('g', figure, {});
  
  
  const plot = make('g', g, {'clip-path': 'url(#clipPv)'});
  
  
  const bg = make('rect', plot, {x: p.x0, y: p.y0, width: p.x1 - p.x0, height: p.y1 - p.y0, fill: '#803006'});
  
  
  const colStep = .25, cw = p.xs(colStep) - p.xs(0);
  let col = 0;
  for (let x = -30.2; x < 30.4; x += colStep, col++) {
    const n = pvStripeNoise[col % pvStripeNoise.length];
    const stripe = make('rect', plot, {x: (p.xs(x)).toFixed(1), y: p.y0, width: (cw + .3).toFixed(1), height: p.y1 - p.y0, fill: n > .5 ? '#9a4008' : '#642202', 'fill-opacity': (Math.abs(n - .5) * .9).toFixed(2)});
    
    
  }
  const cellX = .6, cellV = 22.7;
  for (let x = -30; x < 30.4; x += cellX) {
    for (let r = -23; r <= 22; r++) {
      const v = r * cellV;
      let sum = 0;
      pvGlow.forEach(function (c) {
        const dx = (x - c[0]) / c[2], dv = (v - c[1]) / c[3];
        sum += c[4] * Math.exp(-(dx * dx + dv * dv));
      });
      if (sum < .03) continue;
      const hot = sum >= .92 && Math.abs(x) < 1.5;
      const cell = make('rect', plot, {x: p.xs(x - cellX / 2).toFixed(1), y: p.ys(v + cellV / 2).toFixed(1), width: (p.xs(cellX) - p.xs(0) + .3).toFixed(1), height: (p.ys(0) - p.ys(cellV) + .3).toFixed(1), fill: hot ? '#ffa81c' : '#ff6200', 'fill-opacity': hot ? 1 : Math.min(1, sum / .85).toFixed(2)});
      
      
    }
  }
  const levels = ['#0c0808', '#3c3836', '#7a7876', '#c0c0c0', '#fbfbfb', '#f8b428', '#fff8e0'];
  const nucleusColumns = [[-1.0, pvNucleusLeft], [-.45, pvNucleusMid], [.1, pvNucleusRight]];
  nucleusColumns.forEach(function (column) {
    column[1].forEach(function (level, i) {
      if (level < 0) return;
      const v = pvRowValues[i];
      const cell = make('rect', plot, {x: p.xs(column[0] - .275).toFixed(1), y: p.ys(v + 11.4).toFixed(1), width: (p.xs(.55) - p.xs(0) + .2).toFixed(1), height: (p.ys(0) - p.ys(22.8) + .2).toFixed(1), fill: levels[level]});
      
      
    });
  });
  pvCrescentRows.forEach(function (v, i) {
    const cell = make('rect', plot, {x: p.xs(1.5).toFixed(1), y: p.ys(v + 11.4).toFixed(1), width: (p.xs(1.1) - p.xs(0)).toFixed(1), height: (p.ys(0) - p.ys(22.8) + .2).toFixed(1), fill: levels[pvCrescentValues[i]]});
    
    
  });
  [pvBandUpperLeft, pvBandUpperRight, pvBandLowerLeft, pvBandLowerRight].forEach(function (pts) {
    drawBlockBand(plot, p, pts);
    const line = make('path', plot, {d: linePath(pts, p.xs, p.ys), fill: 'none', stroke: '#2a1410', 'stroke-width': 1.1});
    
    
  });
  [pvLineUpperMid, pvLoopRight, pvLoopFar, pvLoopSmall, pvLoopEdge, pvLensLeft, pvLensRight, pvLensInnerLeft, pvLensInnerRight].forEach(function (pts) {
    const line = make('path', plot, {d: smoothPath(pts, p.xs, p.ys), fill: 'none', stroke: '#2c1a14', 'stroke-width': 1});
    
    
  });
  pvStreaks.forEach(function (s) {
    const streak = make('line', plot, {x1: p.xs(s[0]), x2: p.xs(s[0]), y1: p.ys(s[1]), y2: p.ys(s[2]), stroke: '#1c0804', 'stroke-width': 1.6, 'stroke-opacity': .8});
    
    
  });
  const mark = make('line', plot, {x1: p.xs(pvWhiteMark[0]), x2: p.xs(pvWhiteMark[0]), y1: p.ys(pvWhiteMark[1]), y2: p.ys(pvWhiteMark[2]), stroke: '#fff', 'stroke-width': 3});
  
  
  const axisLine = make('line', plot, {x1: p.xs(-30), x2: p.xs(31), y1: p.ys(pvSystemicVelocity[0]), y2: p.ys(pvSystemicVelocity[1]), stroke: '#67787e', 'stroke-width': 1.6});
  
  
  const centerLine = make('line', plot, {x1: p.xs(0), x2: p.xs(0), y1: p.y0, y2: p.y1, stroke: '#67787e', 'stroke-width': 1});
  
  
  drawTicks(g, p);
  const titles = drawTitles(g, p);
  titles.yl.textContent = 'Velocity [km s';
  const sup = make('tspan', titles.yl, {dy: -9, 'font-size': 13}, MINUS + '1');
  
  
  const close = make('tspan', titles.yl, {dy: 9}, ' ]');
  
  
})();
</script>
</body>
</html>
